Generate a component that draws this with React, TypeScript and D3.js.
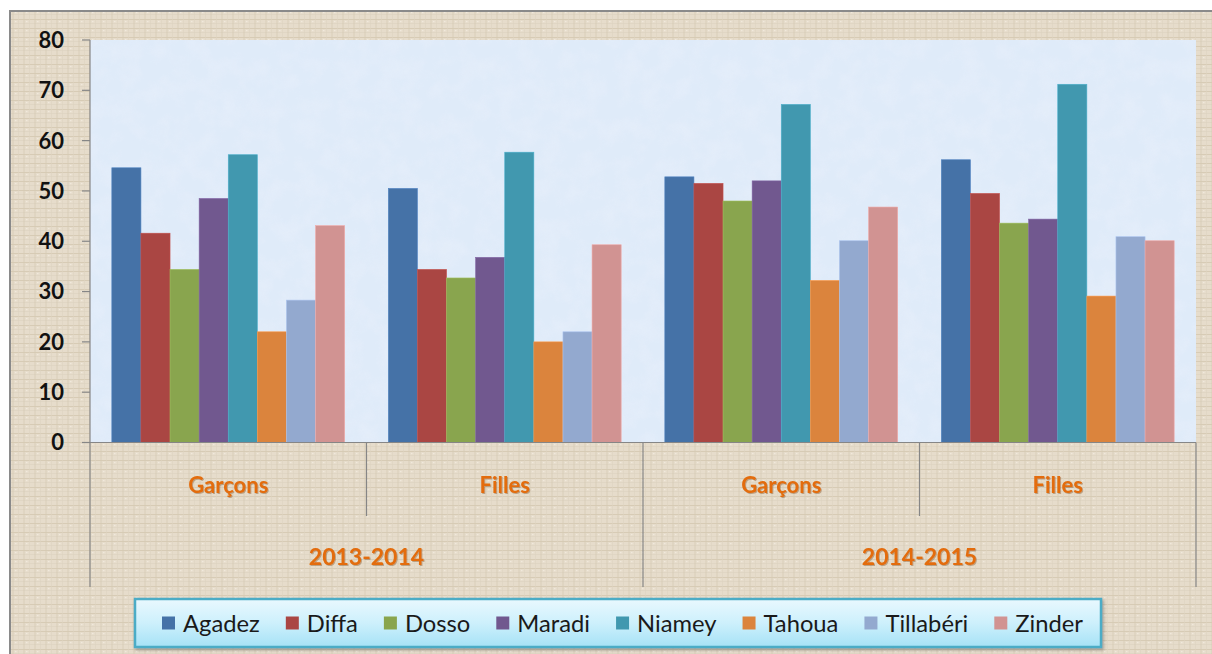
import React, { useEffect } from "react";
import * as d3 from "d3";

const periods = ["2013-2014", "2014-2015"];
const genders = ["Garçons", "Filles"];
const groups = ["2013-2014|Garçons", "2013-2014|Filles", "2014-2015|Garçons", "2014-2015|Filles"];
const regions = ["Agadez", "Diffa", "Dosso", "Maradi", "Niamey", "Tahoua", "Tillabéri", "Zinder"];
const colors = ["#4572A7", "#AA4643", "#89A54E", "#71588F", "#4198AF", "#DB843D", "#93A9CF", "#D19392"];

const agadez = [54.6, 50.5, 52.8, 56.2];
const diffa = [41.6, 34.4, 51.5, 49.5];
const dosso = [34.4, 32.7, 48.0, 43.6];
const maradi = [48.5, 36.8, 52.0, 44.4];
const niamey = [57.2, 57.7, 67.2, 71.2];
const tahoua = [22.0, 20.0, 32.2, 29.1];
const tillaberi = [28.3, 22.0, 40.1, 40.9];
const zinder = [43.1, 39.3, 46.8, 40.1];
const seriesValues = [agadez, diffa, dosso, maradi, niamey, tahoua, tillaberi, zinder];

const yTicks = [0, 10, 20, 30, 40, 50, 60, 70, 80];

const W = 1212;
const H = 654;
const FONT = "Lato, 'Open Sans', sans-serif";

function measure(text: string, font: string): number {
  const c = document.createElement("canvas");
  const ctx = c.getContext("2d");
  if (!ctx) return text.length * 10;
  ctx.font = font;
  return ctx.measureText(text).width;
}

export default function App() {
  useEffect(() => {
    document.body.style.margin = "0";
  }, []);

  const plotL = 90, plotR = 1196, plotT = 40, plotB = 442.5;
  const x0 = d3.scaleBand<string>().domain(groups).range([plotL, plotR]).paddingInner(0).paddingOuter(0);
  const x1 = d3.scaleBand<string>().domain(regions).range([0, x0.bandwidth()]).paddingInner(0).paddingOuter(0.75);
  const y = d3.scaleLinear().domain([0, 80]).range([plotB, plotT]);

  // Legend layout
  const legL = 135, legR = 1101, legT = 599, legB = 647;
  const marker = 13, markerGap = 8, itemGap = 26;
  const baseSize = 20;
  const widths = regions.map((r) => measure(r, `${baseSize}px Lato`));
  const contentTarget = 1083 - 162;
  const fixed = regions.length * (marker + markerGap) + (regions.length - 1) * itemGap;
  const scale = (contentTarget - fixed) / d3.sum(widths);
  const legFont = baseSize * scale;
  let cursor = 162;
  const legendItems = regions.map((r, i) => {
    const item = { name: r, color: colors[i], x: cursor };
    cursor += marker + markerGap + widths[i] * scale + itemGap;
    return item;
  });
  const legMid = (legT + legB) / 2;

  const periodSpan = (p: string) => {
    const gs = groups.filter((g) => g.startsWith(p));
    const a = x0(gs[0])!;
    const b = x0(gs[gs.length - 1])! + x0.bandwidth();
    return [a, b];
  };

  return (
    <svg width={W} height={H} style={{ display: "block" }} xmlns="http://www.w3.org/2000/svg">
      <defs>
        <pattern id="linen" width="11" height="9" patternUnits="userSpaceOnUse">
          <rect width="11" height="9" fill="#e6dccb" />
          <line x1="0" y1="1.5" x2="11" y2="1.5" stroke="#d3c7b0" strokeWidth="0.8" />
          <line x1="0" y1="5.5" x2="11" y2="5.5" stroke="#dcd2bf" strokeWidth="0.6" />
          <line x1="2" y1="0" x2="2" y2="9" stroke="#d6cab4" strokeWidth="0.8" />
          <line x1="7.5" y1="0" x2="7.5" y2="9" stroke="#ddd3c1" strokeWidth="0.6" />
          <rect x="4" y="3" width="1.5" height="1.2" fill="#f0e9dc" />
        </pattern>
        <filter id="noise" x="0" y="0" width="100%" height="100%">
          <feTurbulence type="fractalNoise" baseFrequency="0.05" numOctaves="4" seed="7" />
          <feColorMatrix type="matrix" values="0 0 0 0 0.80  0 0 0 0 0.86  0 0 0 0 0.96  0 0 0 -2.2 1.35" />
        </filter>
        <linearGradient id="legGrad" x1="0" y1="0" x2="0" y2="1">
          <stop offset="0" stopColor="#e9f8fe" />
          <stop offset="0.5" stopColor="#cdf0fc" />
          <stop offset="1" stopColor="#a6e2f6" />
        </linearGradient>
        <filter id="txtShadow" x="-10%" y="-20%" width="120%" height="150%">
          <feDropShadow dx="1" dy="1" stdDeviation="0.6" floodColor="#8a5a2a" floodOpacity="0.45" />
        </filter>
        <filter id="boxShadow" x="-5%" y="-20%" width="110%" height="150%">
          <feDropShadow dx="1.5" dy="2" stdDeviation="1.5" floodColor="#555" floodOpacity="0.45" />
        </filter>
      </defs>

      {/* outer chart area */}
      <rect x={10} y={11} width={W + 20} height={H + 20} fill="url(#linen)" stroke="#8a8a8a" strokeWidth={2} />

      {/* plot area */}
      <rect x={plotL} y={plotT} width={plotR - plotL} height={plotB - plotT} fill="#dfebf9" />
      <rect x={plotL} y={plotT} width={plotR - plotL} height={plotB - plotT} filter="url(#noise)" opacity={0.6} />

      {/* bars */}
      {regions.map((r, si) => (
        <g key={r}>
          {groups.map((g, gi) => {
            const v = seriesValues[si][gi];
            const bx = x0(g)! + x1(r)!;
            return (
              <rect
                key={g}
                x={bx}
                y={y(v)}
                width={x1.bandwidth()}
                height={y(0) - y(v)}
                fill={colors[si]}
                stroke={d3.color(colors[si])!.brighter(0.4).formatHex()}
                strokeWidth={0.6}
              />
            );
          })}
        </g>
      ))}

      {/* y axis */}
      <line x1={plotL} y1={plotT} x2={plotL} y2={plotB} stroke="#868686" strokeWidth={1.2} />
      {yTicks.map((t) => (
        <g key={t}>
          <line x1={plotL - 8} y1={y(t)} x2={plotL} y2={y(t)} stroke="#868686" strokeWidth={1.2} />
          <text x={64} y={y(t)} dy="0.36em" textAnchor="end" fontFamily={FONT} fontSize={22} fontWeight={700} fill="#111">
            {t}
          </text>
        </g>
      ))}

      {/* x axis */}
      <line x1={plotL} y1={plotB} x2={plotR} y2={plotB} stroke="#868686" strokeWidth={1.2} />
      {groups.map((g, i) => {
        const xs = x0(g)!;
        const isPeriodStart = i % genders.length === 0;
        return (
          <line key={g} x1={xs} y1={plotB} x2={xs} y2={isPeriodStart ? 587 : 516} stroke="#868686" strokeWidth={1.2} />
        );
      })}
      <line x1={plotR} y1={plotB} x2={plotR} y2={587} stroke="#868686" strokeWidth={1.2} />

      {groups.map((g) => {
        const gender = g.split("|")[1];
        return (
          <text
            key={g + "lbl"}
            x={x0(g)! + x0.bandwidth() / 2}
            y={493}
            textAnchor="middle"
            fontFamily={FONT}
            fontSize={22}
            fontWeight={700}
            fill="#E36C0A"
            filter="url(#txtShadow)"
          >
            {gender}
          </text>
        );
      })}
      {periods.map((p) => {
        const [a, b] = periodSpan(p);
        return (
          <text
            key={p}
            x={(a + b) / 2}
            y={565}
            textAnchor="middle"
            fontFamily={FONT}
            fontSize={23}
            fontWeight={700}
            fill="#E36C0A"
            filter="url(#txtShadow)"
          >
            {p}
          </text>
        );
      })}

      {/* legend */}
      <rect x={legL} y={legT} width={legR - legL} height={legB - legT} fill="url(#legGrad)" stroke="#4BACC6" strokeWidth={2.5} filter="url(#boxShadow)" />
      {legendItems.map((it) => (
        <g key={it.name}>
          <rect x={it.x} y={legMid - marker / 2} width={marker} height={marker} fill={it.color} />
          <text x={it.x + marker + markerGap} y={legMid} dy="0.36em" fontFamily={FONT} fontSize={legFont} fill="#1a1a1a">
            {it.name}
          </text>
        </g>
      ))}
    </svg>
  );
}
